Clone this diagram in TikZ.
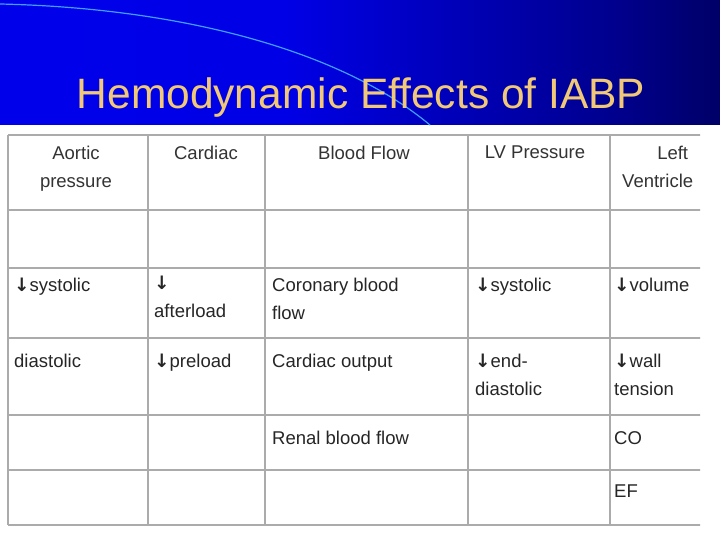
\documentclass[tikz,border=0pt]{standalone}
\usepackage{fontspec}
\setmainfont{Liberation Sans}
\newfontfamily\arrfont{DejaVu Sans Bold}
\pgfdeclarehorizontalshading{bgshade}{100bp}{color(0bp)=(blue!95!black); color(45bp)=(blue!90!black); color(68bp)=(blue!55!black); color(85bp)=(blue!20!black); color(95bp)=(black); color(100bp)=(black)}
\newcommand{\dn}{{\arrfont\char"2193}}
\definecolor{titlecol}{RGB}{240,200,120}
\tikzset{
  cellhead/.style={anchor=north, align=center, font=\fontsize{18.5}{28}\selectfont, text=black!80, inner sep=0pt},
  cellbody/.style={anchor=north west, align=left, font=\fontsize{18.5}{28}\selectfont, text=black!85, inner sep=0pt},
  gridline/.style={draw=black!33, line width=1.4pt}
}
\begin{document}
\begin{tikzpicture}[x=1pt,y=-1pt]
\useasboundingbox (0,0) rectangle (720,540);
\fill[white] (0,0) rectangle (720,540);
\shade[shading=bgshade] (0,0) rectangle (720,125);
\draw[blue!50!cyan!75, line width=1.2pt] (0,4) .. controls (180,8) and (340,50) .. (430,125);
\node[text=titlecol, font=\fontsize{42.5}{44}\selectfont, anchor=base] (title) at (361,109) {Hemodynamic Effects of IABP};
\begin{scope}
\clip (0,125) rectangle (700,540);
\foreach \y in {135,210,268,338,415,470,525} \draw[gridline] (8,\y) -- (715,\y);
\foreach \x in {8,148,265,468,610} \draw[gridline] (\x,135) -- (\x,525);
\node[cellhead] (h1) at (76,146) {Aortic\\pressure};
\node[cellhead] (h2) at (206,146) {Cardiac};
\node[cellhead] (h3) at (364,146) {Blood Flow};
\node[cellhead] (h4) at (535,146) {LV Pressure};
\node[cellhead, anchor=north west] (h5) at (622,146) {\hspace*{30pt}Left\\Ventricle};
\node[cellbody] (a1) at (14,278) {\dn systolic};
\node[cellbody] (b1) at (154,276) {\dn\\afterload};
\node[cellbody] (c1) at (272,278) {Coronary blood\\flow};
\node[cellbody] (d1) at (475,278) {\dn systolic};
\node[cellbody] (e1) at (614,278) {\dn volume};
\node[cellbody] (a2) at (14,354) {diastolic};
\node[cellbody] (b2) at (154,354) {\dn preload};
\node[cellbody] (c2) at (272,354) {Cardiac output};
\node[cellbody] (d2) at (475,354) {\dn end-\\diastolic};
\node[cellbody] (e2) at (614,354) {\dn wall\\tension};
\node[cellbody] (c3) at (272,431) {Renal blood flow};
\node[cellbody] (e3) at (614,431) {CO};
\node[cellbody] (e4) at (614,485) {EF};
\end{scope}
\end{tikzpicture}
\end{document}
